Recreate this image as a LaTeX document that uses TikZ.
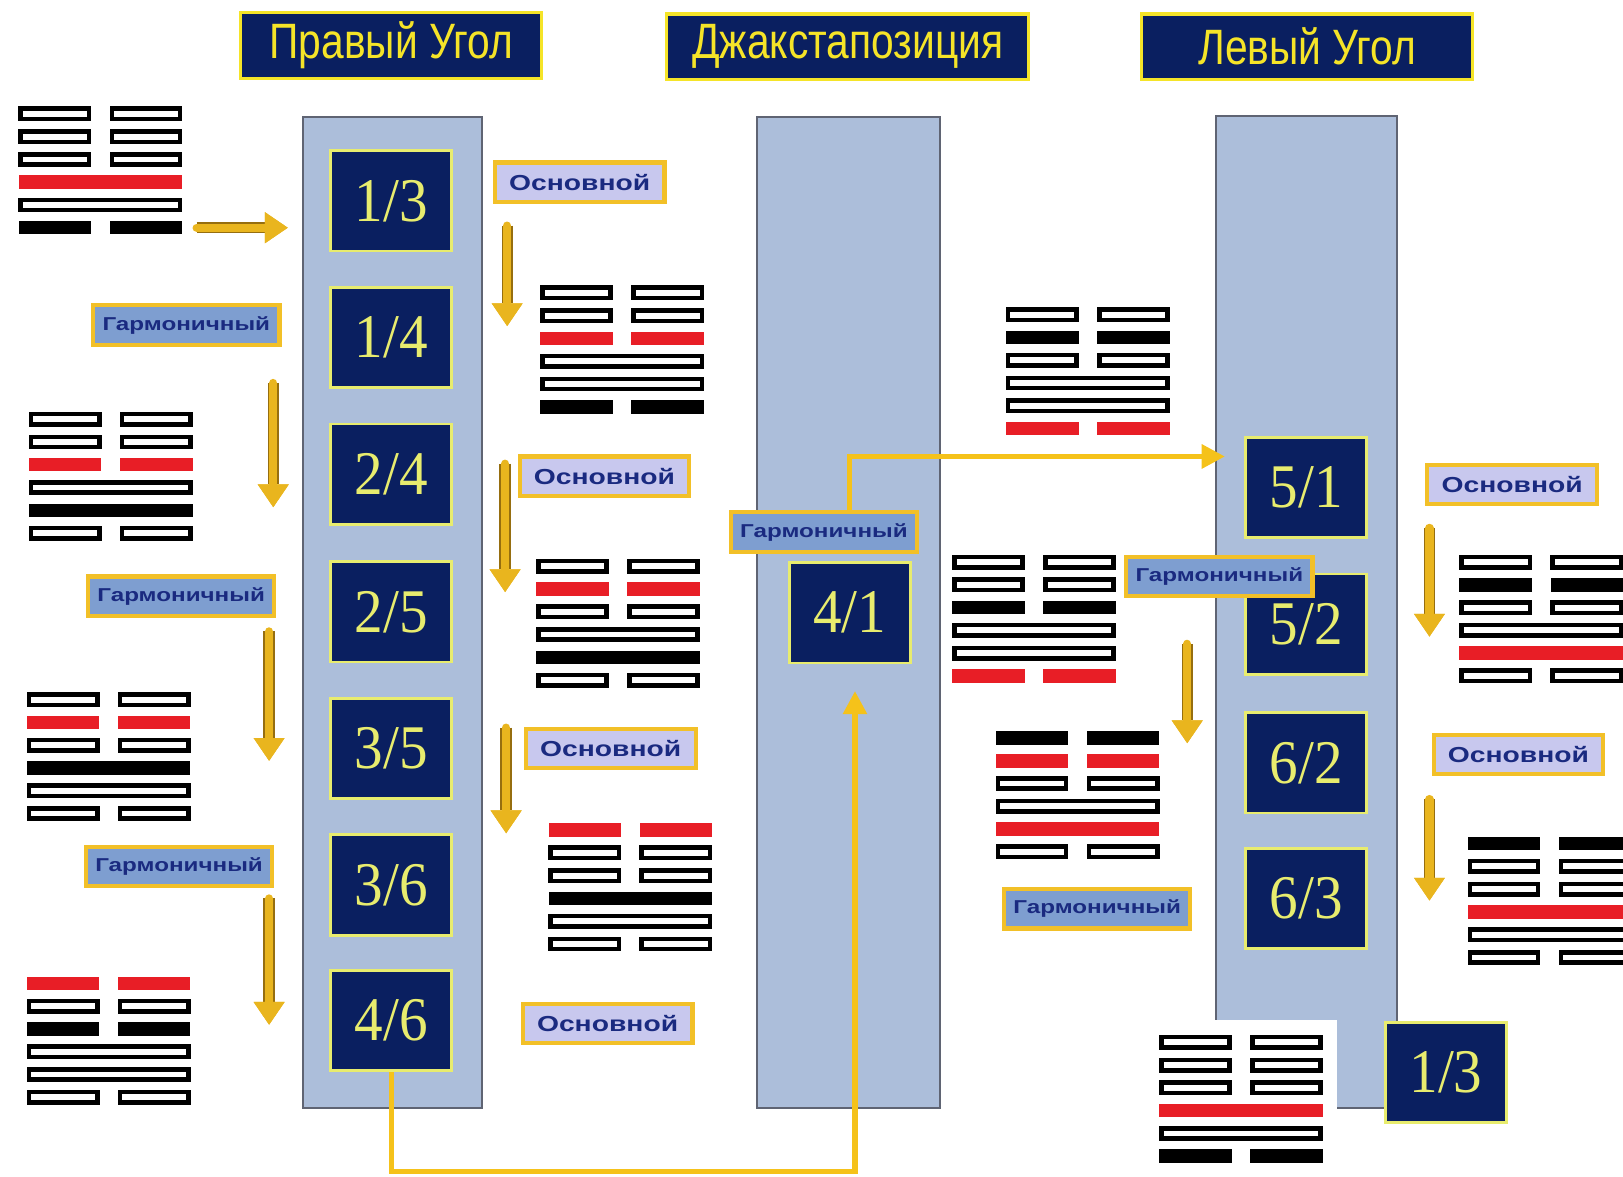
\documentclass[tikz,border=0pt]{standalone}
\usepackage{fontspec}
\setmainfont{Liberation Sans}
\newfontfamily\titlefont[FakeStretch=0.82]{Liberation Sans}
\newfontfamily\numfont[FakeStretch=0.92]{Liberation Serif}
\newfontfamily\tagfont[FakeStretch=1.3]{Liberation Sans}
\usetikzlibrary{arrows.meta,calc}

\definecolor{navy}{RGB}{10,31,96}
\definecolor{titleyellow}{RGB}{245,228,40}
\definecolor{numyellow}{RGB}{232,236,110}
\definecolor{colfill}{RGB}{172,190,218}
\definecolor{coledge}{RGB}{95,100,115}
\definecolor{lavender}{RGB}{200,200,238}
\definecolor{steel}{RGB}{126,158,208}
\definecolor{tagedge}{RGB}{242,192,40}
\definecolor{tagtext}{RGB}{26,42,128}
\definecolor{gold}{RGB}{233,181,30}
\definecolor{golddark}{RGB}{150,110,15}
\definecolor{linkyellow}{RGB}{245,194,26}
\definecolor{yaored}{RGB}{232,30,38}

\tikzset{
  titlebox/.style={draw=titleyellow, line width=1.5pt, fill=navy, text=titleyellow,
    font=\titlefont\fontsize{24}{24}\selectfont, minimum width=#1, minimum height=31.5pt, inner sep=0pt},
  numbox/.style={draw=numyellow, line width=1.3pt, fill=navy, text=numyellow,
    font=\numfont\fontsize{30}{30}\selectfont, minimum width=58.5pt, minimum height=48.5pt, inner sep=0pt},
  osnbox/.style={draw=tagedge, line width=2pt, fill=lavender, text=tagtext,
    font=\tagfont\bfseries\fontsize{10.5}{11}\selectfont, minimum width=82pt, minimum height=19pt, inner sep=0pt},
  harmbox/.style={draw=tagedge, line width=2pt, fill=steel, text=tagtext,
    font=\tagfont\bfseries\fontsize{9}{10}\selectfont, minimum width=90pt, minimum height=19pt, inner sep=0pt},
  colbg/.style={fill=colfill, draw=coledge, line width=1pt},
  yaoedge/.style={draw=black, fill=white, line width=2.2pt},
  goldarrow/.style={draw=gold, line width=4pt, line cap=round,
    preaction={draw=golddark, line width=5.5pt},
    -{Triangle[length=11pt, width=15pt, line width=0pt, fill=gold]}},
  joinline/.style={draw=linkyellow, line width=2.5pt,
    -{Triangle[length=11pt, width=12pt, line width=0pt]}},
}

% one line of a hexagram: #1 = left x, #2 = middle y
\newcommand{\yaoo}[2]{\draw[yaoedge] (#1+2,#2-5) rectangle (#1+156,#2+5);}
\newcommand{\yaoos}[2]{\draw[yaoedge] (#1+2,#2-5) rectangle (#1+68,#2+5);
  \draw[yaoedge] (#1+90,#2-5) rectangle (#1+156,#2+5);}
\newcommand{\yaob}[2]{\fill[black] (#1,#2-6.5) rectangle (#1+158,#2+6.5);}
\newcommand{\yaobs}[2]{\fill[black] (#1,#2-6.5) rectangle (#1+70,#2+6.5);
  \fill[black] (#1+88,#2-6.5) rectangle (#1+158,#2+6.5);}
\newcommand{\yaor}[2]{\fill[yaored] (#1,#2-6.5) rectangle (#1+158,#2+6.5);}
\newcommand{\yaors}[2]{\fill[yaored] (#1,#2-6.5) rectangle (#1+70,#2+6.5);
  \fill[yaored] (#1+88,#2-6.5) rectangle (#1+158,#2+6.5);}
% whole hexagram, lines from top to bottom
\newcommand{\gua}[3]{\foreach \k [count=\i from 0] in {#3} {\csname yao\k\endcsname{#1}{#2+22*\i}}}

\begin{document}
\begin{tikzpicture}[x=0.5pt, y=-0.5pt]
\useasboundingbox (0,0) rectangle (1568,1137);
\clip (0,0) rectangle (1568,1137);

% columns
\filldraw[colbg] (293,113) rectangle (466,1070);
\filldraw[colbg] (731,113) rectangle (908,1070);
\filldraw[colbg] (1175,112) rectangle (1350,1070);
\fill[white] (1100,985) rectangle (1292,1137);

% titles
\node[titlebox=145.5pt] (tright) at (378,44) {Правый Угол};
\node[titlebox=175pt] (tjux) at (819,45) {Джакстапозиция};
\node[titlebox=160pt] (tleft) at (1263,45) {Левый Угол};

% right angle
\node[numbox] (n13) at (378,194) {1/3};
\node[numbox] (n14) at (378,326) {1/4};
\node[numbox] (n24) at (378,458) {2/4};
\node[numbox] (n25) at (378,591) {2/5};
\node[numbox] (n35) at (378,723) {3/5};
\node[numbox] (n36) at (378,855) {3/6};
\node[numbox] (n46) at (378,986) {4/6};

% juxtaposition
\node[numbox] (n41) at (821,592) {4/1};

% left angle
\node[numbox] (n51) at (1262,471) {5/1};
\node[numbox] (n52) at (1262,603) {5/2};
\node[numbox] (n62) at (1262,737) {6/2};
\node[numbox] (n63) at (1262,868) {6/3};
\node[numbox] (n13b) at (1397,1036) {1/3};

% hexagrams
\gua{18}{110}{os,os,os,r,o,bs}
\gua{522}{283}{os,os,rs,o,o,bs}
\gua{28}{405}{os,os,rs,o,b,os}
\gua{518}{547}{os,rs,os,o,b,os}
\gua{26}{676}{os,rs,os,b,o,os}
\gua{530}{802}{rs,os,os,b,o,os}
\gua{26}{950}{rs,os,bs,o,o,os}
\gua{972}{304}{os,bs,os,o,o,rs}
\gua{920}{543}{os,os,bs,o,o,rs}
\gua{962}{713}{bs,rs,os,o,r,os}
\gua{1410}{543}{os,bs,os,o,r,os}
\gua{1418}{815}{bs,os,os,r,o,os}
\gua{1120}{1007}{os,os,os,r,o,bs}

% gold arrows
\foreach \ax/\ay/\bx/\by [count=\j] in {190/220/278/220, 264/370/264/490, 260/610/260/735,
    260/868/260/990, 490/218/490/315, 488/448/488/572, 489/703/489/805,
    1147/622/1147/718, 1381/510/1381/615, 1381/772/1381/870} {
  \coordinate (s\j) at (\ax,\ay);
  \coordinate (e\j) at (\bx,\by);
  \draw[goldarrow] (s\j) -- (e\j);
}

% tags
\node[osnbox] (osn1) at (560,176) {Основной};
\node[osnbox] (osn2) at (584,460) {Основной};
\node[osnbox] (osn3) at (590,723) {Основной};
\node[osnbox] (osn4) at (587,989) {Основной};
\node[osnbox] (osn5) at (1461,468) {Основной};
\node[osnbox] (osn6) at (1467,729) {Основной};
\node[harmbox] (harm1) at (180,314) {Гармоничный};
\node[harmbox] (harm2) at (175,576) {Гармоничный};
\node[harmbox] (harm3) at (173,837) {Гармоничный};
\node[harmbox] (harm4) at (796,514) {Гармоничный};
\node[harmbox] (harm5) at (1178,557) {Гармоничный};
\node[harmbox] (harm6) at (1060,878) {Гармоничный};

% links
\coordinate (tip41) at (826,668);
\coordinate (low) at (0,1132);
\coordinate (tip51) at (1183,441);
\draw[joinline] (n46.south) |- (low -| tip41) -- (tip41);
\draw[joinline] (harm4.north -| n41) |- (tip51);
\end{tikzpicture}
\end{document}
